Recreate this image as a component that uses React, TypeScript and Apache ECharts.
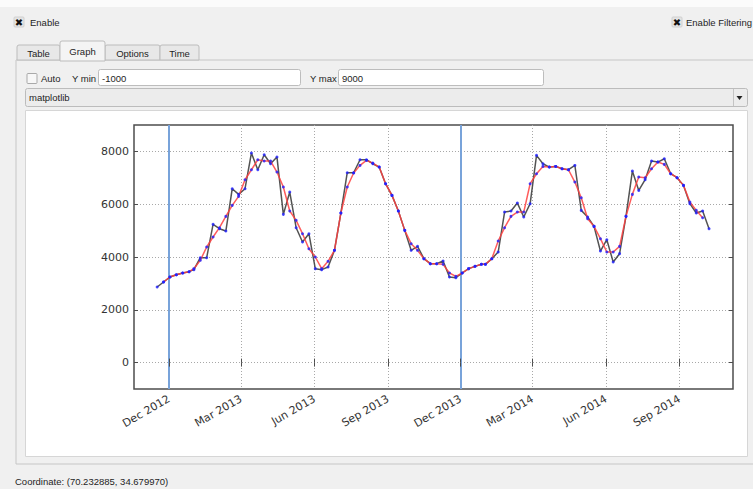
import { useEffect, useRef } from "react";
import * as echarts from "echarts";

// 8-day composite dates
const dates = [
  "2012-11-16", "2012-11-24", "2012-12-02", "2012-12-10", "2012-12-18", "2012-12-26",
  "2013-01-01", "2013-01-09", "2013-01-17", "2013-01-25", "2013-02-02", "2013-02-10", "2013-02-18", "2013-02-26",
  "2013-03-06", "2013-03-14", "2013-03-22", "2013-03-30", "2013-04-07", "2013-04-15", "2013-04-23",
  "2013-05-01", "2013-05-09", "2013-05-17", "2013-05-25", "2013-06-02", "2013-06-10", "2013-06-18", "2013-06-26",
  "2013-07-04", "2013-07-12", "2013-07-20", "2013-07-28", "2013-08-05", "2013-08-13", "2013-08-21", "2013-08-29",
  "2013-09-06", "2013-09-14", "2013-09-22", "2013-09-30", "2013-10-08", "2013-10-16", "2013-10-24",
  "2013-11-01", "2013-11-09", "2013-11-17", "2013-11-25", "2013-12-03", "2013-12-11", "2013-12-19", "2013-12-27",
  "2014-01-01", "2014-01-09", "2014-01-17", "2014-01-25", "2014-02-02", "2014-02-10", "2014-02-18", "2014-02-26",
  "2014-03-06", "2014-03-14", "2014-03-22", "2014-03-30", "2014-04-07", "2014-04-15", "2014-04-23",
  "2014-05-01", "2014-05-09", "2014-05-17", "2014-05-25", "2014-06-02", "2014-06-10", "2014-06-18", "2014-06-26",
  "2014-07-04", "2014-07-12", "2014-07-20", "2014-07-28", "2014-08-05", "2014-08-13", "2014-08-21", "2014-08-29",
  "2014-09-06", "2014-09-14", "2014-09-22", "2014-09-30", "2014-10-08",
];

// raw index values
const raw = [
  2864, 3053, 3242, 3330, 3394, 3444,
  3520, 3974, 3974, 5236, 5072, 4984, 6587, 6372,
  6587, 7937, 7306, 7874, 7533, 7785, 5615,
  6460, 5110, 4567, 4883, 3558, 3520, 3621, 4252,
  5665, 7192, 7192, 7684, 7684, 7533, 7407, 6776,
  6334, 5741, 5009, 4252, 4403, 3936, 3747,
  3747, 3848, 3242, 3217, 3394, 3558, 3646, 3722,
  3722, 3936, 4189, 5703, 5741, 6043, 5514, 6019,
  7849, 7533, 7407, 7432, 7344, 7306, 7470,
  5766, 5514, 5160, 4226, 4656, 3810, 4126, 5539,
  7255, 6523, 6927, 7634, 7596, 7722, 7154, 7003,
  6713, 6019, 5665, 5741, 5072,
];

// smoothed values (no value at the two end points)
const smooth = [
  null, 3053, 3242, 3330, 3394, 3444,
  3558, 3873, 4378, 4757, 5110, 5539, 5956, 6296,
  6927, 7306, 7684, 7634, 7634, 7218, 6650,
  5741, 5388, 4883, 4315, 4000, 3558, 3835, 4252,
  5665, 6650, 7180, 7470, 7659, 7558, 7407, 6776,
  6334, 5741, 5009, 4504, 4252, 3936, 3747,
  3747, 3722, 3394, 3267, 3394, 3558, 3646, 3722,
  3722, 3936, 4605, 5110, 5539, 5703, 5703, 6776,
  7154, 7432, 7407, 7432, 7344, 7306, 6839,
  6246, 5451, 5160, 4694, 4189, 4189, 4403, 5539,
  6372, 7028, 7003, 7344, 7596, 7508, 7154, 7003,
  6713, 6082, 5766, 5489, null,
];

const tickDates = [
  "2012-12-01", "2013-03-01", "2013-06-01", "2013-09-01",
  "2013-12-01", "2014-03-01", "2014-06-01", "2014-09-01",
];
const tickLabels = [
  "Dec 2012", "Mar 2013", "Jun 2013", "Sep 2013",
  "Dec 2013", "Mar 2014", "Jun 2014", "Sep 2014",
];
const yTicks = [0, 2000, 4000, 6000, 8000];
const markerDates = ["2012-12-01", "2013-12-01"];
const xRange = ["2012-10-18", "2014-11-07"];
const yRange = [-1000, 9000];

const ts = (s: string) => {
  const [y, m, d] = s.split("-").map(Number);
  return Date.UTC(y, m - 1, d);
};

const UI_FONT = 'Tahoma, "Liberation Sans", sans-serif';
const PLOT_FONT = '"DejaVu Sans", sans-serif';

function uiText(text: string, x: number, y: number, extra: any = {}) {
  return {
    type: "text",
    x,
    y,
    z: 1,
    style: {
      text,
      fill: "#1e1e1e",
      fontSize: 9.5,
      fontFamily: UI_FONT,
      align: "left",
      verticalAlign: "middle",
      ...extra,
    },
  };
}

function checkX(x: number, y: number) {
  return [
    {
      type: "rect",
      z: -2,
      shape: { x, y, width: 10, height: 10, r: 1 },
      style: { fill: "#e4e4e4", stroke: "#d0d0d0", lineWidth: 1 },
    },
    {
      type: "text",
      x: x + 5,
      y: y + 5,
      z: 1,
      style: {
        text: "✖",
        fill: "#111",
        fontSize: 10,
        fontFamily: '"DejaVu Sans", sans-serif',
        align: "center",
        verticalAlign: "middle",
      },
    },
  ];
}

function tab(label: string, x: number, w: number, selected: boolean) {
  const top = selected ? 41 : 45;
  return [
    {
      type: "rect",
      z: selected ? -6 : -7,
      shape: { x, y: top, width: w, height: 60 - top + (selected ? 1 : 0), r: [2, 2, 0, 0] },
      style: { fill: selected ? "#f4f4f4" : "#e8e8e8", stroke: "#bcbcbc", lineWidth: 1 },
    },
    uiText(label, x + w / 2, selected ? 51 : 53, { align: "center" }),
  ];
}

const uiElements: any[] = [
  { type: "rect", z: -20, shape: { x: 0, y: 0, width: 753, height: 7 }, style: { fill: "#fbfbfb" } },
  ...checkX(14, 17),
  uiText("Enable", 30, 22.5),
  ...checkX(672, 17),
  uiText("Enable Filtering", 686, 22.5),
  // tab pane
  {
    type: "rect",
    z: -8,
    shape: { x: 16, y: 60, width: 745, height: 404 },
    style: { fill: "#f0f0f0", stroke: "#c6c6c6", lineWidth: 1 },
  },
  ...tab("Table", 17, 43, false),
  ...tab("Graph", 60, 45, true),
  ...tab("Options", 105, 55, false),
  ...tab("Time", 160, 39, false),
  // Y range row
  {
    type: "rect",
    z: -3,
    shape: { x: 27, y: 73.5, width: 10, height: 10, r: 1 },
    style: { fill: "#f7f7f7", stroke: "#a9a9a9", lineWidth: 1 },
  },
  uiText("Auto", 41, 78.5),
  uiText("Y min", 72, 78),
  {
    type: "rect",
    z: -3,
    shape: { x: 98.5, y: 69.5, width: 202, height: 16, r: 2 },
    style: { fill: "#ffffff", stroke: "#bdbdbd", lineWidth: 1 },
  },
  uiText("-1000", 102, 78),
  uiText("Y max", 310, 78),
  {
    type: "rect",
    z: -3,
    shape: { x: 338.5, y: 69.5, width: 205, height: 16, r: 2 },
    style: { fill: "#ffffff", stroke: "#bdbdbd", lineWidth: 1 },
  },
  uiText("9000", 342, 78),
  // backend selector
  {
    type: "rect",
    z: -3,
    shape: { x: 25.5, y: 88.5, width: 722, height: 18, r: 2 },
    style: { fill: "#ececec", stroke: "#bcbcbc", lineWidth: 1 },
  },
  uiText("matplotlib", 29, 97.5),
  {
    type: "line",
    z: -2,
    shape: { x1: 733.5, y1: 89, x2: 733.5, y2: 106 },
    style: { stroke: "#c4c4c4", lineWidth: 1 },
  },
  {
    type: "polygon",
    z: -2,
    shape: { points: [[736.5, 96], [742.5, 96], [739.5, 100]] },
    style: { fill: "#222" },
  },
  // figure canvas
  {
    type: "rect",
    z: -3,
    shape: { x: 25.5, y: 110.5, width: 722, height: 346 },
    style: { fill: "#ffffff", stroke: "#d6d6d6", lineWidth: 1 },
  },
  uiText("Coordinate: (70.232885, 34.679970)", 15, 481),
];

export default function App() {
  const ref = useRef<HTMLDivElement>(null);

  useEffect(() => {
    if (!ref.current) return;
    const chart = echarts.init(ref.current, null, { renderer: "svg" });

    const rawData = dates.map((d, i) => [ts(d), raw[i]]);
    const smoothData = dates
      .map((d, i) => [ts(d), smooth[i]])
      .filter((p) => p[1] !== null);

    const tickValues = tickDates.map(ts);
    const labelFor = (v: number) => {
      const i = tickValues.indexOf(v);
      return i >= 0 ? tickLabels[i] : "";
    };

    const xCommon = {
      type: "value",
      min: ts(xRange[0]),
      max: ts(xRange[1]),
      z: 5,
      axisLine: { show: false },
    };
    const yCommon = {
      type: "value",
      min: yRange[0],
      max: yRange[1],
      z: 5,
      axisLine: { show: false },
    };

    const tickStyle = { color: "#4d4d4d", width: 1 };
    const gridStyle = { color: "#a8a8a8", type: [1, 2], width: 1 };

    chart.setOption({
      animation: false,
      backgroundColor: "#f0f0f0",
      graphic: { elements: uiElements },
      grid: {
        left: 134,
        top: 125,
        width: 599,
        height: 264,
        show: true,
        backgroundColor: "transparent",
        borderColor: "#4d4d4d",
        borderWidth: 1.5,
        z: 4,
        outerBoundsMode: "none",
      },
      xAxis: [
        {
          ...xCommon,
          position: "bottom",
          axisTick: { show: true, inside: true, length: 4, customValues: tickValues, lineStyle: tickStyle },
          axisLabel: {
            customValues: tickValues,
            formatter: (v: number) => labelFor(v),
            rotate: 30,
            margin: 9,
            fontSize: 11,
            fontFamily: PLOT_FONT,
            color: "#333",
          },
          splitLine: { show: true, lineStyle: gridStyle },
        },
        {
          ...xCommon,
          position: "top",
          axisTick: { show: true, inside: true, length: 4, customValues: tickValues, lineStyle: tickStyle },
          axisLabel: { show: false },
          splitLine: { show: false },
        },
      ],
      yAxis: [
        {
          ...yCommon,
          position: "left",
          axisTick: { show: true, inside: true, length: 4, customValues: yTicks, lineStyle: tickStyle },
          axisLabel: {
            customValues: yTicks,
            formatter: (v: number) => String(v),
            margin: 5,
            fontSize: 11,
            fontFamily: PLOT_FONT,
            color: "#333",
          },
          splitLine: { show: true, lineStyle: gridStyle },
        },
        {
          ...yCommon,
          position: "right",
          axisTick: { show: true, inside: true, length: 4, customValues: yTicks, lineStyle: tickStyle },
          axisLabel: { show: false },
          splitLine: { show: false },
        },
      ],
      series: [
        {
          name: "raw",
          type: "line",
          data: rawData,
          showSymbol: false,
          z: 6,
          lineStyle: { color: "#404040", width: 1.5, opacity: 0.9 },
          markLine: {
            silent: true,
            symbol: "none",
            label: { show: false },
            lineStyle: { color: "#78a3da", width: 2, type: "solid" },
            data: markerDates.map((d) => ({ xAxis: ts(d) })),
          },
        },
        {
          name: "smoothed",
          type: "line",
          data: smoothData,
          showSymbol: false,
          z: 7,
          lineStyle: { color: "#ff4040", width: 1.5, opacity: 0.85 },
        },
        {
          name: "raw points",
          type: "scatter",
          data: rawData,
          z: 8,
          symbolSize: 3,
          itemStyle: { color: "#1f1fff" },
        },
        {
          name: "smoothed points",
          type: "scatter",
          data: smoothData,
          z: 8,
          symbolSize: 3,
          itemStyle: { color: "#1f1fff" },
        },
      ],
    });

    return () => chart.dispose();
  }, []);

  return (
    <div
      ref={ref}
      style={{ position: "fixed", left: 0, top: 0, width: 753, height: 489 }}
    />
  );
}
